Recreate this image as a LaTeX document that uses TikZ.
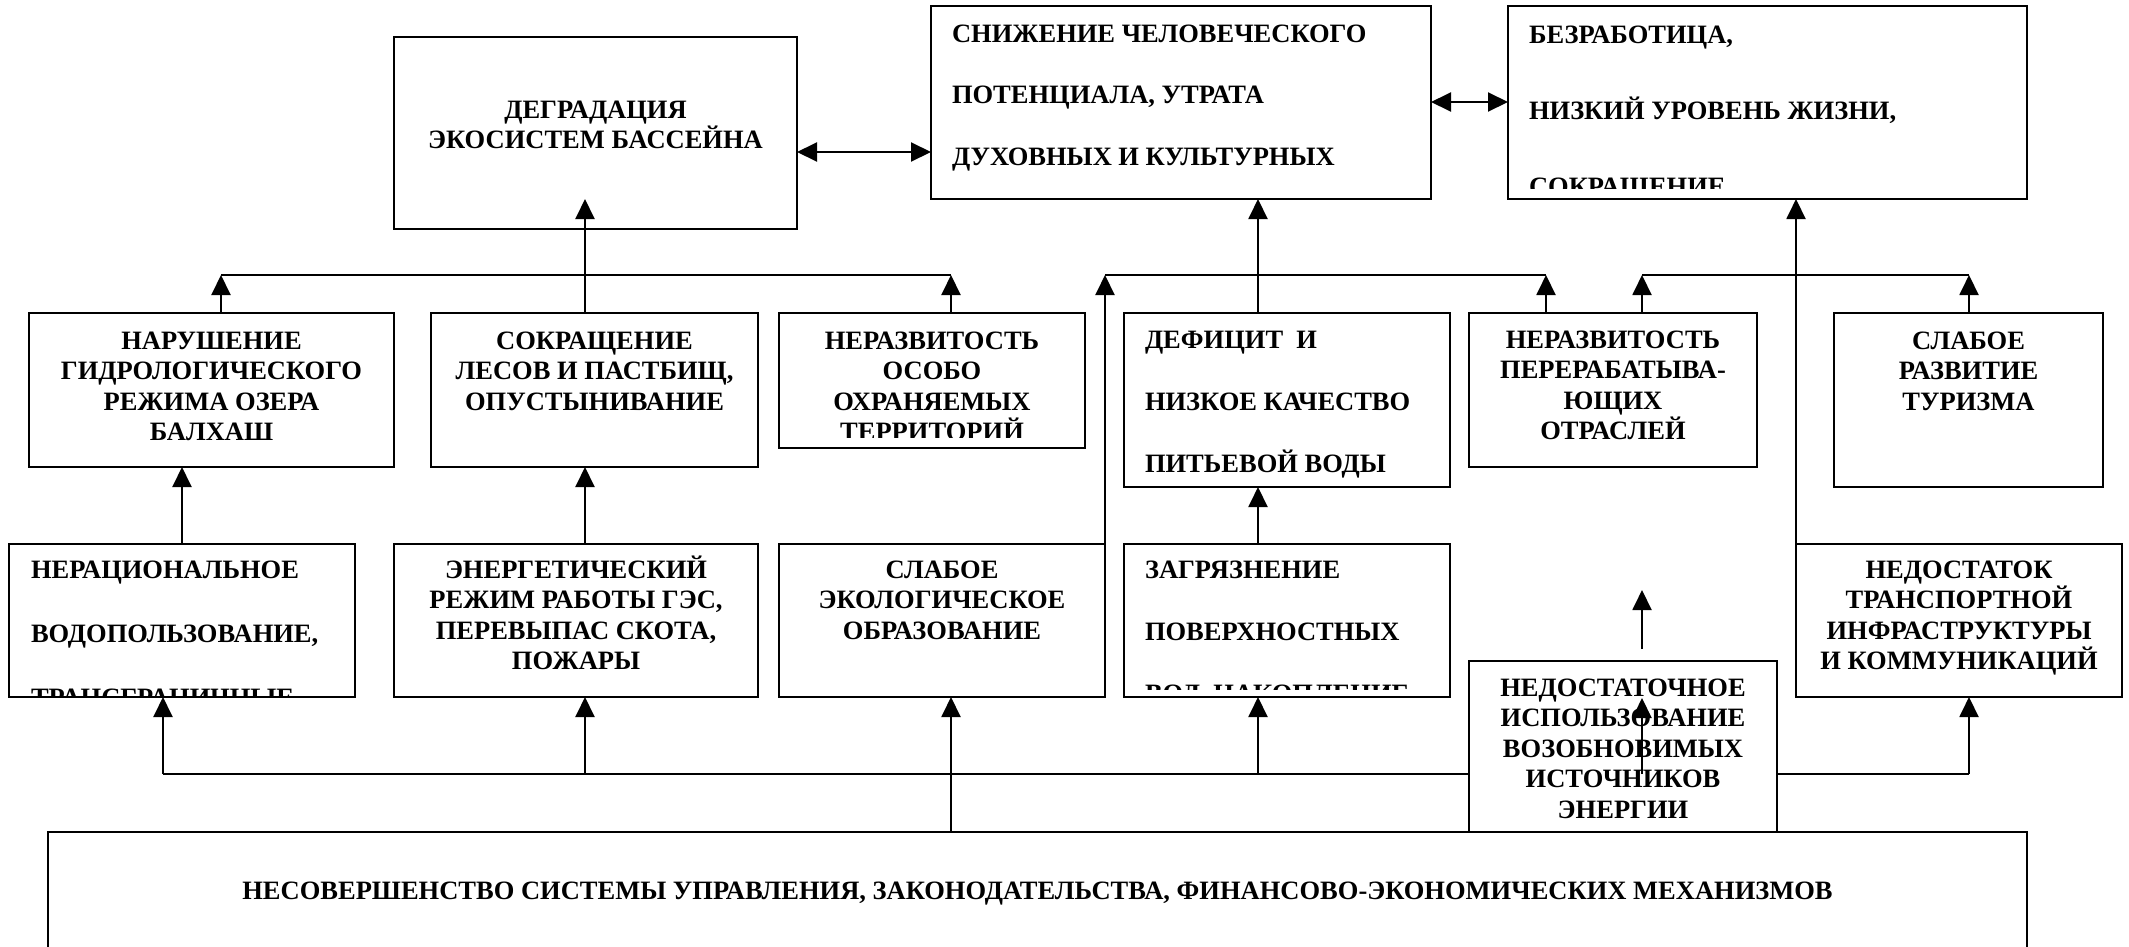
\documentclass[tikz,border=0pt]{standalone}
\usepackage{fontspec}
\setmainfont{Liberation Serif}
\usetikzlibrary{arrows.meta}
\newcommand{\tstrut}{\rule{0pt}{26pt}}
\begin{document}
\begin{tikzpicture}[x=1pt,y=-1pt,
  box/.style={draw, line width=2pt, fill=white, inner sep=0pt, outer sep=0pt, anchor=north west},
  txt/.style={inner sep=0pt, outer sep=0pt, font=\fontsize{26.5}{30.6}\selectfont\bfseries},
  lead/.style={font=\fontsize{26.5}{#1}\selectfont\bfseries},
  ctxt/.style={txt, anchor=north, align=center},
  ltxt/.style={txt, anchor=north west, align=left},
  ln/.style={line width=2pt},
  arr/.style={ln, -{Triangle[length=20pt,width=19pt]}},
  darr/.style={ln, {Triangle[length=20pt,width=19pt]}-{Triangle[length=20pt,width=19pt]}}
]
\clip (0,0) rectangle (2129,946);
\fill[white] (0,0) rectangle (2129,946);

% ---------- boxes ----------
\node[box, minimum width=403pt, minimum height=192pt] (D) at (394,37) {};
\node[box, minimum width=500pt, minimum height=193pt] (S) at (931,6) {};
\node[box, minimum width=519pt, minimum height=193pt] (B) at (1508,6) {};

\node[box, minimum width=365pt, minimum height=154pt] (N1) at (29,313) {};
\node[box, minimum width=327pt, minimum height=154pt] (N2) at (431,313) {};
\node[box, minimum width=306pt, minimum height=135pt] (N3) at (779,313) {};
\node[box, minimum width=326pt, minimum height=174pt] (N4) at (1124,313) {};
\node[box, minimum width=288pt, minimum height=154pt] (N5) at (1469,313) {};
\node[box, minimum width=269pt, minimum height=174pt] (N6) at (1834,313) {};

\node[box, minimum width=346pt, minimum height=153pt] (R1) at (9,544) {};
\node[box, minimum width=364pt, minimum height=153pt] (R2) at (394,544) {};
\node[box, minimum width=326pt, minimum height=153pt] (R3) at (779,544) {};
\node[box, minimum width=326pt, minimum height=153pt] (R4) at (1124,544) {};
\node[box, minimum width=326pt, minimum height=153pt] (R5) at (1796,544) {};

\node[box, minimum width=1979pt, minimum height=160pt] (Z) at (48,832) {};

% ---------- texts ----------
\node[ctxt] (tD) at (595.5,92) {\tstrut ДЕГРАДАЦИЯ\\ЭКОСИСТЕМ БАССЕЙНА};
\node[ltxt, lead=61.5pt] (tS) at (952,16) {\tstrut СНИЖЕНИЕ ЧЕЛОВЕЧЕСКОГО\\ПОТЕНЦИАЛА, УТРАТА\\ДУХОВНЫХ И КУЛЬТУРНЫХ};
\begin{scope}
\clip (1510,8) rectangle (2025,188);
\node[ltxt, lead=76pt] (tB) at (1529,17) {\tstrut БЕЗРАБОТИЦА,\\НИЗКИЙ УРОВЕНЬ ЖИЗНИ,\\СОКРАЩЕНИЕ};
\end{scope}

\node[ctxt] (tN1) at (211.5,323) {\tstrut НАРУШЕНИЕ\\ГИДРОЛОГИЧЕСКОГО\\РЕЖИМА ОЗЕРА\\БАЛХАШ};
\node[ctxt] (tN2) at (594.5,323) {\tstrut СОКРАЩЕНИЕ\\ЛЕСОВ И ПАСТБИЩ,\\ОПУСТЫНИВАНИЕ};
\begin{scope}
\clip (781,315) rectangle (1083,437);
\node[ctxt] (tN3) at (932,323) {\tstrut НЕРАЗВИТОСТЬ\\ОСОБО\\ОХРАНЯЕМЫХ\\ТЕРРИТОРИЙ};
\end{scope}
\node[ltxt, lead=62pt] (tN4) at (1145,322) {\tstrut ДЕФИЦИТ\ \ И\\НИЗКОЕ КАЧЕСТВО\\ПИТЬЕВОЙ ВОДЫ};
\node[ctxt] (tN5) at (1613,322) {\tstrut НЕРАЗВИТОСТЬ\\ПЕРЕРАБАТЫВА-\\ЮЩИХ\\ОТРАСЛЕЙ};
\node[ctxt] (tN6) at (1968.5,323) {\tstrut СЛАБОЕ\\РАЗВИТИЕ\\ТУРИЗМА};

\begin{scope}
\clip (11,546) rectangle (353,695);
\node[ltxt, lead=64pt] (tR1) at (31,552) {\tstrut НЕРАЦИОНАЛЬНОЕ\\ВОДОПОЛЬЗОВАНИЕ,\\ТРАНСГРАНИЧНЫЕ};
\end{scope}
\node[ctxt] (tR2) at (576,552) {\tstrut ЭНЕРГЕТИЧЕСКИЙ\\РЕЖИМ РАБОТЫ ГЭС,\\ПЕРЕВЫПАС СКОТА,\\ПОЖАРЫ};
\node[ctxt] (tR3) at (942,552) {\tstrut СЛАБОЕ\\ЭКОЛОГИЧЕСКОЕ\\ОБРАЗОВАНИЕ};
\begin{scope}
\clip (1126,546) rectangle (1448,689);
\node[ltxt, lead=62pt] (tR4) at (1145,552) {\tstrut ЗАГРЯЗНЕНИЕ\\ПОВЕРХНОСТНЫХ\\ВОД, НАКОПЛЕНИЕ};
\end{scope}
\node[ctxt] (tR5) at (1959,552) {\tstrut НЕДОСТАТОК\\ТРАНСПОРТНОЙ\\ИНФРАСТРУКТУРЫ\\И КОММУНИКАЦИЙ};

\node[ctxt] (tZ) at (1037.5,873) {\tstrut НЕСОВЕРШЕНСТВО СИСТЕМЫ УПРАВЛЕНИЯ, ЗАКОНОДАТЕЛЬСТВА, ФИНАНСОВО-ЭКОНОМИЧЕСКИХ МЕХАНИЗМОВ};

% ---------- coordinates ----------
\coordinate (h1) at (0,152);
\coordinate (h2) at (0,102);
\coordinate (xa) at (221,275);
\coordinate (xb) at (951,275);
\coordinate (xc) at (585,199);
\coordinate (ya) at (1105,275);
\coordinate (yb) at (1546,275);
\coordinate (yc) at (1258,275);
\coordinate (za) at (1642,275);
\coordinate (zb) at (1969,275);
\coordinate (u1) at (182,544);
\coordinate (u2) at (585,544);
\coordinate (u3) at (1258,544);
\coordinate (bl) at (163,774);
\coordinate (b2) at (585,774);
\coordinate (bt) at (951,774);
\coordinate (b3) at (1258,774);
\coordinate (br) at (1969,774);
\coordinate (f1) at (1642,649);
\coordinate (f2) at (1642,590);
\coordinate (g1) at (1642,774);
\coordinate (g2) at (1642,698);

% ---------- connectors, top ----------
\draw[darr] (D.east |- h1) -- (S.west |- h1);
\draw[darr] (S.east |- h2) -- (B.west |- h2);

\draw[ln] (xa) -- (xb);
\draw[arr] (N1.north -| xa) -- (xa);
\draw[arr] (N3.north -| xb) -- (xb);
\draw[arr] (N2.north -| xc) -- (xc);

\draw[ln] (ya) -- (yb);
\draw[arr] (R3.north east) -- (ya);
\draw[arr] (N5.north -| yb) -- (yb);
\draw[arr] (N4.north -| yc) -- (S.south -| yc);

\draw[ln] (za) -- (zb);
\draw[arr] (N5.north -| za) -- (za);
\draw[arr] (N6.north -| zb) -- (zb);
\draw[arr] (R5.north west) -- (B.south -| R5.north west);

% ---------- row 3 to row 2 ----------
\draw[arr] (u1) -- (N1.south -| u1);
\draw[arr] (u2) -- (N2.south -| u2);
\draw[arr] (u3) -- (N4.south -| u3);

% ---------- bottom ----------
\draw[ln] (bl) -- (br);
\draw[arr] (Z.north -| bt) -- (R3.south -| bt);
\draw[arr] (bl) -- (R1.south -| bl);
\draw[arr] (b2) -- (R2.south -| b2);
\draw[arr] (b3) -- (R4.south -| b3);
\draw[arr] (br) -- (R5.south -| br);

% ---------- box over the bus ----------
\node[box, minimum width=308pt, minimum height=171pt] (Q) at (1469,661) {};
\node[ctxt] (tQ) at (1623,670) {\tstrut НЕДОСТАТОЧНОЕ\\ИСПОЛЬЗОВАНИЕ\\ВОЗОБНОВИМЫХ\\ИСТОЧНИКОВ\\ЭНЕРГИИ};
\draw[arr] (f1) -- (f2);
\draw[arr] (g1) -- (g2);
\end{tikzpicture}
\end{document}
